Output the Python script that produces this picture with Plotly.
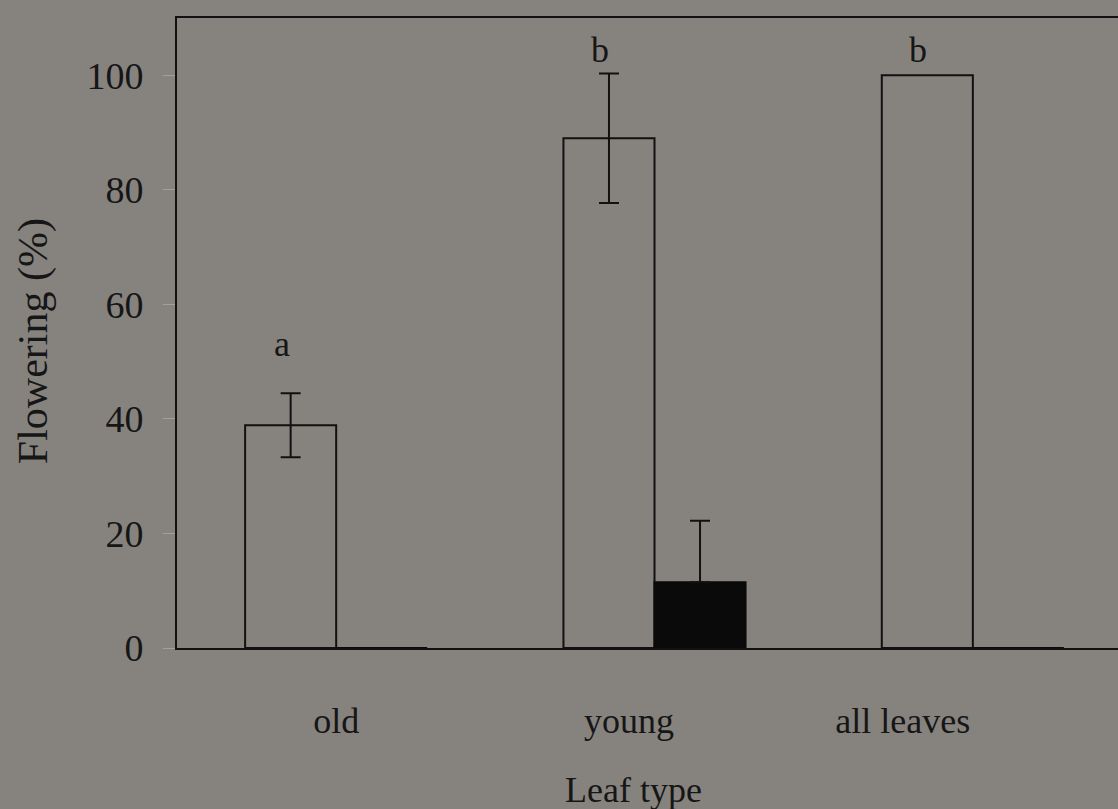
import plotly.graph_objects as go

categories = ["old", "young", "all leaves"]
cat_pos = [0, 1, 2]
label_pos = [0.0, 0.92, 1.78]
open_values = [38.9, 89.0, 100.0]
open_err = [5.6, 11.3, 0.0]
black_values = [0.0, 11.5, 0.0]
black_err = [0.0, 10.7, 0.0]
letters = ["a", "b", "b"]
letter_y = [53, 104.5, 104.5]
y_ticks = [0, 20, 40, 60, 80, 100]

BG = "#86837f"
FONT = "Liberation Serif"
TXT = "#161616"
bar_w = 0.286

fig = go.Figure()
fig.add_trace(go.Bar(
    x=cat_pos, y=open_values,
    marker=dict(color="rgba(0,0,0,0)", line=dict(color="#111111", width=2)),
    showlegend=False,
))
fig.add_trace(go.Bar(
    x=cat_pos, y=black_values,
    marker=dict(color="#0a0a0a", line=dict(color="#0a0a0a", width=2)),
    showlegend=False,
))

# error bars only where an error exists
ex, ey, eplus, eminus = [], [], [], []
for i in range(len(cat_pos)):
    if open_err[i] > 0:
        ex.append(cat_pos[i] - bar_w / 2); ey.append(open_values[i])
        eplus.append(open_err[i]); eminus.append(open_err[i])
    if black_err[i] > 0:
        ex.append(cat_pos[i] + bar_w / 2); ey.append(black_values[i])
        eplus.append(black_err[i]); eminus.append(0)
fig.add_trace(go.Scatter(
    x=ex, y=ey, mode="markers", marker=dict(size=0.1, color="rgba(0,0,0,0)"),
    error_y=dict(type="data", array=eplus, arrayminus=eminus, symmetric=False,
                 visible=True, color="#111111", thickness=2, width=10),
    showlegend=False, hoverinfo="skip",
))

for i, (lab, ly) in enumerate(zip(letters, letter_y)):
    fig.add_annotation(x=cat_pos[i] - bar_w / 2, y=ly, text=lab, showarrow=False,
                       xshift=-9, font=dict(family=FONT, size=36, color=TXT))

fig.add_annotation(text="Leaf type", xref="paper", yref="paper", x=0.485, y=-0.226,
                   xanchor="center", yanchor="middle", showarrow=False,
                   font=dict(family=FONT, size=36, color=TXT))
fig.add_annotation(text="Flowering (%)", xref="paper", yref="paper", x=-0.153, y=0.487,
                   textangle=-90, xanchor="center", yanchor="middle", showarrow=False,
                   font=dict(family=FONT, size=42, color=TXT))

fig.update_layout(
    width=1118, height=809,
    margin=dict(l=177, r=0, t=18, b=161),
    paper_bgcolor=BG, plot_bgcolor=BG,
    barmode="group", bargap=0.428, bargroupgap=0,
    font=dict(family=FONT, size=38, color=TXT),
)
fig.update_xaxes(
    range=[-0.5, 2.456], tickvals=label_pos, ticktext=categories,
    showline=True, linecolor="#111111", linewidth=2, mirror=True,
    ticks="", showgrid=False, zeroline=False, ticklabelstandoff=40,
    tickfont=dict(family=FONT, size=36, color=TXT),
)
fig.update_yaxes(
    range=[0, 110], tickvals=y_ticks,
    showline=True, linecolor="#111111", linewidth=2,
    ticks="outside", ticklen=12, tickcolor="#a3a09c", tickwidth=1,
    showgrid=False, zeroline=False, ticklabelstandoff=12,
    tickfont=dict(family=FONT, size=38, color=TXT),
)

fig.write_html("out.html")
